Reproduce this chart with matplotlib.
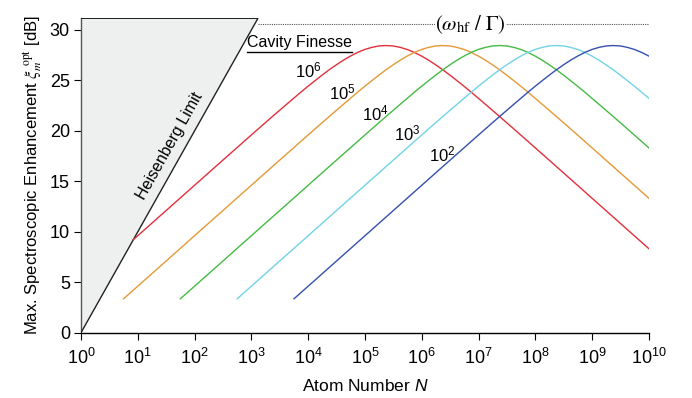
import numpy as np
import matplotlib
matplotlib.use("Agg")
import matplotlib.pyplot as plt

plt.rcParams['font.family'] = ['Liberation Sans', 'DejaVu Sans']
plt.rcParams['mathtext.fontset'] = 'custom'
plt.rcParams['mathtext.rm'] = 'Liberation Sans'
plt.rcParams['mathtext.it'] = 'Liberation Sans:italic'
plt.rcParams['mathtext.bf'] = 'Liberation Sans:bold'

# ---------------- data ----------------
finesse_labels = ['$10^{6}$', '$10^{5}$', '$10^{4}$', '$10^{3}$', '$10^{2}$']

logN_f6 = [0.92, 1.37, 1.87, 2.37, 2.87, 3.12, 3.37, 3.62, 3.87, 3.995, 4.12, 4.245, 4.37, 4.495,
           4.62, 4.745, 4.87, 4.995, 5.12, 5.245, 5.37, 5.495, 5.62, 5.745, 5.87, 5.995, 6.12,
           6.245, 6.37, 6.495, 6.62, 6.745, 6.87, 7.12, 7.37, 7.62, 7.87, 8.37, 8.87, 9.37, 9.87, 10.0]
dB_f6 = [9.21, 11.46, 13.96, 16.46, 18.95, 20.19, 21.42, 22.63, 23.83, 24.41, 24.97, 25.52, 26.05, 26.54,
         27.00, 27.41, 27.77, 28.06, 28.27, 28.41, 28.45, 28.41, 28.27, 28.06, 27.77, 27.41, 27.00,
         26.54, 26.05, 25.52, 24.97, 24.41, 23.83, 22.63, 21.42, 20.19, 18.95, 16.46, 13.96, 11.46, 8.96, 8.31]

logN_f5 = [0.75, 0.87, 1.37, 1.87, 2.37, 2.87, 3.37, 3.87, 4.12, 4.37, 4.62, 4.87, 4.995, 5.12, 5.245,
           5.37, 5.495, 5.62, 5.745, 5.87, 5.995, 6.12, 6.245, 6.37, 6.495, 6.62, 6.745, 6.87, 6.995,
           7.12, 7.245, 7.37, 7.495, 7.62, 7.745, 7.87, 8.12, 8.37, 8.62, 8.87, 9.37, 9.87, 10.0]
dB_f5 = [3.36, 3.96, 6.46, 8.96, 11.46, 13.96, 16.46, 18.95, 20.19, 21.42, 22.63, 23.83, 24.41, 24.97, 25.52,
         26.05, 26.54, 27.00, 27.41, 27.77, 28.06, 28.27, 28.41, 28.45, 28.41, 28.27, 28.06, 27.77, 27.41,
         27.00, 26.54, 26.05, 25.52, 24.97, 24.41, 23.83, 22.63, 21.42, 20.19, 18.95, 16.46, 13.96, 13.31]

logN_f4 = [1.75, 1.87, 2.37, 2.87, 3.37, 3.87, 4.37, 4.87, 5.12, 5.37, 5.62, 5.87, 5.995, 6.12, 6.245,
           6.37, 6.495, 6.62, 6.745, 6.87, 6.995, 7.12, 7.245, 7.37, 7.495, 7.62, 7.745, 7.87, 7.995,
           8.12, 8.245, 8.37, 8.495, 8.62, 8.745, 8.87, 9.12, 9.37, 9.62, 9.87, 10.0]
dB_f4 = [3.36, 3.96, 6.46, 8.96, 11.46, 13.96, 16.46, 18.95, 20.19, 21.42, 22.63, 23.83, 24.41, 24.97, 25.52,
         26.05, 26.54, 27.00, 27.41, 27.77, 28.06, 28.27, 28.41, 28.45, 28.41, 28.27, 28.06, 27.77, 27.41,
         27.00, 26.54, 26.05, 25.52, 24.97, 24.41, 23.83, 22.63, 21.42, 20.19, 18.95, 18.30]

logN_f3 = [2.75, 2.87, 3.37, 3.87, 4.37, 4.87, 5.37, 5.87, 6.12, 6.37, 6.62, 6.87, 6.995, 7.12, 7.245,
           7.37, 7.495, 7.62, 7.745, 7.87, 7.995, 8.12, 8.245, 8.37, 8.495, 8.62, 8.745, 8.87, 8.995,
           9.12, 9.245, 9.37, 9.495, 9.62, 9.745, 9.87, 10.0]
dB_f3 = [3.36, 3.96, 6.46, 8.96, 11.46, 13.96, 16.46, 18.95, 20.19, 21.42, 22.63, 23.83, 24.41, 24.97, 25.52,
         26.05, 26.54, 27.00, 27.41, 27.77, 28.06, 28.27, 28.41, 28.45, 28.41, 28.27, 28.06, 27.77, 27.41,
         27.00, 26.54, 26.05, 25.52, 24.97, 24.41, 23.83, 23.21]

logN_f2 = [3.75, 3.87, 4.37, 4.87, 5.37, 5.87, 6.37, 6.87, 7.12, 7.37, 7.62, 7.87, 7.995, 8.12, 8.245,
           8.37, 8.495, 8.62, 8.745, 8.87, 8.995, 9.12, 9.245, 9.37, 9.495, 9.62, 9.745, 9.87, 10.0]
dB_f2 = [3.36, 3.96, 6.46, 8.96, 11.46, 13.96, 16.46, 18.95, 20.19, 21.42, 22.63, 23.83, 24.41, 24.97, 25.52,
         26.05, 26.54, 27.00, 27.41, 27.77, 28.06, 28.27, 28.41, 28.45, 28.41, 28.27, 28.06, 27.77, 27.40]

heis_logN = [0.0, 3.115]
heis_dB = [0.0, 31.15]

asymptote_dB = 30.6

xticks_exp = list(range(0, 11))
yticks = [0, 5, 10, 15, 20, 25, 30]

colors = ['#e2303c', '#e39a36', '#45bb45', '#72d3e6', '#3550ad']

# ---------------- figure ----------------
fig = plt.figure(figsize=(6.92, 3.98), dpi=100)
ax = fig.add_axes([81/692, 1 - 332.7/398, (649 - 81)/692, (332.7 - 18.3)/398])

ax.set_xscale('log')
ax.set_xlim(1, 1e10)
ax.set_ylim(0, 31.15)

# Heisenberg triangle
hx = 10 ** np.array(heis_logN)
ax.fill([hx[0], hx[0], hx[1]], [heis_dB[0], heis_dB[1], heis_dB[1]],
        color='#eef0ef', zorder=1, lw=0)
ax.plot([hx[0], hx[1], hx[0]], [heis_dB[0], heis_dB[1], heis_dB[1]],
        color='#222222', lw=1.0, zorder=3, solid_joinstyle='miter')

# asymptote
ax.plot([hx[1], 1e10], [asymptote_dB, asymptote_dB], color='#555555', lw=0.8,
        ls=(0, (1, 1)), zorder=2)
ax.text(10 ** 6.86, asymptote_dB - 0.1, r'$(\omega_{\mathrm{hf}}\ /\ \Gamma)$', math_fontfamily='stix',
        ha='center', va='center', fontsize=15,
        bbox=dict(facecolor='white', edgecolor='none', pad=0.5), zorder=4)

series = [(logN_f6, dB_f6), (logN_f5, dB_f5), (logN_f4, dB_f4), (logN_f3, dB_f3), (logN_f2, dB_f2)]
for (lx, dby), c in zip(series, colors):
    ax.plot(10 ** np.array(lx), dby, color=c, lw=1.0, zorder=3)

# finesse labels
lab_pos = [(3.768, 25.27), (4.37, 23.13), (4.94, 21.08), (5.516, 19.03), (6.127, 16.95)]
for t, (lx, ly) in zip(finesse_labels, lab_pos):
    ax.text(10 ** lx, ly, t, ha='left', va='baseline', fontsize=12, zorder=4)

ax.text(10 ** 2.93, 28.75, 'Cavity Finesse', ha='left', va='center', fontsize=11.5, zorder=4)
ax.plot([10 ** 2.92, 10 ** 4.77], [27.78, 27.78], color='black', lw=1.0, zorder=4)

ax.text(10 ** 1.567, 18.5, 'Heisenberg Limit', rotation=60.8, ha='center', va='center',
        fontsize=11.5, rotation_mode='anchor', zorder=4)

# axes styling
for s in ['top', 'right']:
    ax.spines[s].set_visible(False)
ax.spines['left'].set_color('#555555')
ax.spines['bottom'].set_color('black')
ax.spines['left'].set_linewidth(1.0)
ax.spines['bottom'].set_linewidth(1.0)

ax.set_xticks([10.0 ** e for e in xticks_exp])
ax.set_xticklabels(['$10^{%d}$' % e for e in xticks_exp])
ax.minorticks_off()
ax.set_yticks(yticks)
ax.tick_params(axis='both', direction='out', length=5, width=0.8, labelsize=13)
ax.tick_params(axis='x', pad=6)
ax.tick_params(axis='y', pad=3)

ax.set_xlabel('Atom Number $N$', fontsize=12.5, labelpad=7)
ax.set_ylabel(r'Max. Spectroscopic Enhancement $\xi_m^{\ \mathrm{opt}}$ [dB]', fontsize=12,
              math_fontfamily='stix', labelpad=4)

fig.savefig('out.png', dpi=100)
